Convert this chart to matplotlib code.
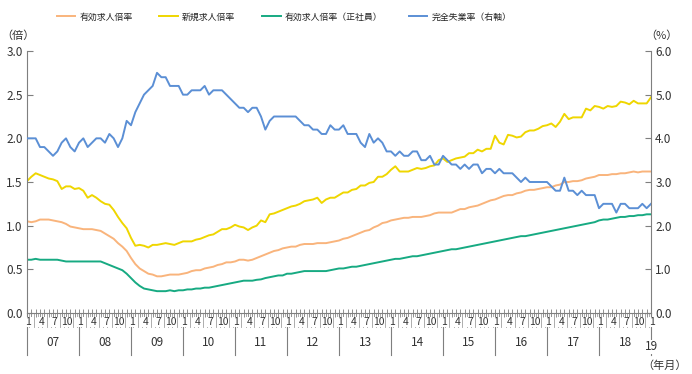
import matplotlib
matplotlib.use("Agg")
import matplotlib.pyplot as plt
import matplotlib.transforms as mtransforms
import numpy as np

plt.rcParams['font.family'] = ['Liberation Sans Narrow', 'Noto Sans CJK JP', 'DejaVu Sans']

# monthly data, 2007-01 .. 2019-01
years = ['07', '08', '09', '10', '11', '12', '13', '14', '15', '16', '17', '18', '19']
month_labels = ['1', '4', '7', '10']

# 有効求人倍率
jobs_ratio = [
    1.05, 1.04, 1.05, 1.07, 1.07, 1.07, 1.06, 1.05, 1.04, 1.02, 0.99, 0.98,
    0.97, 0.96, 0.96, 0.96, 0.95, 0.94, 0.91, 0.88, 0.85, 0.80, 0.76, 0.71,
    0.63, 0.56, 0.51, 0.48, 0.45, 0.44, 0.42, 0.42, 0.43, 0.44, 0.44, 0.44,
    0.45, 0.46, 0.48, 0.49, 0.49, 0.51, 0.52, 0.53, 0.55, 0.56, 0.58, 0.58,
    0.59, 0.61, 0.61, 0.60, 0.61, 0.63, 0.65, 0.67, 0.69, 0.71, 0.72, 0.74,
    0.75, 0.76, 0.76, 0.78, 0.79, 0.79, 0.79, 0.80, 0.80, 0.80, 0.81, 0.82,
    0.83, 0.85, 0.86, 0.88, 0.90, 0.92, 0.94, 0.95, 0.98, 1.00, 1.03, 1.04,
    1.06, 1.07, 1.08, 1.09, 1.09, 1.10, 1.10, 1.10, 1.11, 1.12, 1.14, 1.15,
    1.15, 1.15, 1.15, 1.17, 1.19, 1.19, 1.21, 1.22, 1.23, 1.25, 1.27, 1.29,
    1.30, 1.32, 1.34, 1.35, 1.35, 1.37, 1.38, 1.40, 1.41, 1.41, 1.42, 1.43,
    1.44, 1.44, 1.46, 1.47, 1.50, 1.50, 1.51, 1.51, 1.52, 1.54, 1.55, 1.56,
    1.58, 1.58, 1.58, 1.59, 1.59, 1.60, 1.60, 1.61, 1.62, 1.61, 1.62, 1.62,
    1.62,
]

# 新規求人倍率
new_jobs_ratio = [
    1.51, 1.56, 1.60, 1.58, 1.56, 1.54, 1.53, 1.51, 1.42, 1.45, 1.45, 1.42,
    1.43, 1.40, 1.32, 1.35, 1.32, 1.28, 1.25, 1.24, 1.18, 1.10, 1.03, 0.97,
    0.86, 0.77, 0.78, 0.77, 0.75, 0.78, 0.78, 0.79, 0.80, 0.79, 0.78, 0.80,
    0.82, 0.82, 0.82, 0.84, 0.85, 0.87, 0.89, 0.90, 0.93, 0.96, 0.96, 0.98,
    1.01, 0.99, 0.98, 0.95, 0.98, 1.00, 1.06, 1.04, 1.13, 1.14, 1.16, 1.18,
    1.20, 1.22, 1.23, 1.25, 1.28, 1.29, 1.30, 1.32, 1.26, 1.30, 1.32, 1.32,
    1.35, 1.38, 1.38, 1.41, 1.42, 1.46, 1.46, 1.49, 1.50, 1.56, 1.56, 1.59,
    1.64, 1.68, 1.62, 1.62, 1.62, 1.64, 1.66, 1.65, 1.66, 1.68, 1.69, 1.75,
    1.77, 1.73, 1.75, 1.77, 1.78, 1.79, 1.83, 1.83, 1.87, 1.85, 1.88, 1.88,
    2.03, 1.95, 1.93, 2.04, 2.03, 2.01, 2.02, 2.07, 2.09, 2.09, 2.11, 2.14,
    2.15, 2.17, 2.13, 2.19, 2.28, 2.22, 2.24, 2.24, 2.24, 2.34, 2.32, 2.37,
    2.36, 2.34, 2.37, 2.36, 2.37, 2.42, 2.41, 2.39, 2.43, 2.40, 2.40, 2.40,
    2.47,
]

# 有効求人倍率（正社員）
regular_ratio = [
    0.61, 0.61, 0.62, 0.61, 0.61, 0.61, 0.61, 0.61, 0.60, 0.59, 0.59, 0.59,
    0.59, 0.59, 0.59, 0.59, 0.59, 0.59, 0.57, 0.55, 0.53, 0.51, 0.49, 0.45,
    0.40, 0.35, 0.31, 0.28, 0.27, 0.26, 0.25, 0.25, 0.25, 0.26, 0.25, 0.26,
    0.26, 0.27, 0.27, 0.28, 0.28, 0.29, 0.29, 0.30, 0.31, 0.32, 0.33, 0.34,
    0.35, 0.36, 0.37, 0.37, 0.37, 0.38, 0.385, 0.40, 0.41, 0.42, 0.43, 0.43,
    0.45, 0.45, 0.46, 0.47, 0.48, 0.48, 0.48, 0.48, 0.48, 0.48, 0.49, 0.50,
    0.51, 0.51, 0.52, 0.53, 0.53, 0.54, 0.55, 0.56, 0.57, 0.58, 0.59, 0.60,
    0.61, 0.62, 0.62, 0.63, 0.64, 0.65, 0.65, 0.66, 0.67, 0.68, 0.69, 0.70,
    0.71, 0.72, 0.73, 0.73, 0.74, 0.75, 0.76, 0.77, 0.78, 0.79, 0.80, 0.81,
    0.82, 0.83, 0.84, 0.85, 0.86, 0.87, 0.88, 0.88, 0.89, 0.90, 0.91, 0.92,
    0.93, 0.94, 0.95, 0.96, 0.97, 0.98, 0.99, 1.00, 1.01, 1.02, 1.03, 1.04,
    1.06, 1.07, 1.07, 1.08, 1.09, 1.10, 1.10, 1.11, 1.11, 1.12, 1.12, 1.13,
    1.13,
]

# 完全失業率（右軸, %）
unemployment = [
    4.0, 4.0, 4.0, 3.8, 3.8, 3.7, 3.6, 3.7, 3.9, 4.0, 3.8, 3.7,
    3.9, 4.0, 3.8, 3.9, 4.0, 4.0, 3.9, 4.1, 4.0, 3.8, 4.0, 4.4,
    4.3, 4.6, 4.8, 5.0, 5.1, 5.2, 5.5, 5.4, 5.4, 5.2, 5.2, 5.2,
    5.0, 5.0, 5.1, 5.1, 5.1, 5.2, 5.0, 5.1, 5.1, 5.1, 5.0, 4.9,
    4.8, 4.7, 4.7, 4.6, 4.7, 4.7, 4.5, 4.2, 4.4, 4.5, 4.5, 4.5,
    4.5, 4.5, 4.5, 4.4, 4.3, 4.3, 4.2, 4.2, 4.1, 4.1, 4.3, 4.2,
    4.2, 4.3, 4.1, 4.1, 4.1, 3.9, 3.8, 4.1, 3.9, 4.0, 3.9, 3.7,
    3.7, 3.6, 3.7, 3.6, 3.6, 3.7, 3.7, 3.5, 3.5, 3.6, 3.4, 3.4,
    3.6, 3.5, 3.4, 3.4, 3.3, 3.4, 3.3, 3.4, 3.4, 3.2, 3.3, 3.3,
    3.2, 3.3, 3.2, 3.2, 3.2, 3.1, 3.0, 3.1, 3.0, 3.0, 3.0, 3.0,
    3.0, 2.9, 2.8, 2.8, 3.1, 2.8, 2.8, 2.7, 2.8, 2.7, 2.7, 2.7,
    2.4, 2.5, 2.5, 2.5, 2.3, 2.5, 2.5, 2.4, 2.4, 2.4, 2.5, 2.4,
    2.5,
]

c_orange = '#F9B47C'
c_yellow = '#EFD600'
c_green = '#17AA82'
c_blue = '#5B8FD5'
c_axis = '#7F7F7F'

x = np.arange(len(jobs_ratio))

fig = plt.figure(figsize=(6.92, 3.74), dpi=100)
ax = fig.add_axes([27 / 692, 1 - 313 / 374, 624 / 692, 262 / 374])
ax2 = ax.twinx()

l1, = ax.plot(x, jobs_ratio, color=c_orange, lw=1.4, label='有効求人倍率')
l2, = ax.plot(x, new_jobs_ratio, color=c_yellow, lw=1.4, label='新規求人倍率')
l3, = ax.plot(x, regular_ratio, color=c_green, lw=1.4, label='有効求人倍率（正社員）')
l4, = ax2.plot(x, unemployment, color=c_blue, lw=1.4, label='完全失業率（右軸）')

ax.set_xlim(0, len(x) - 1)
ax.set_ylim(0, 3.0)
ax2.set_ylim(0, 6.0)
ax.set_yticks(np.arange(0, 3.01, 0.5))
ax.set_yticklabels([f'{v:.1f}' for v in np.arange(0, 3.01, 0.5)])
ax2.set_yticks(np.arange(0, 6.01, 1.0))
ax2.set_yticklabels([f'{v:.1f}' for v in np.arange(0, 6.01, 1.0)])

for a in (ax, ax2):
    a.spines['top'].set_visible(False)
    for s in ('left', 'right', 'bottom'):
        a.spines[s].set_color(c_axis)
        a.spines[s].set_linewidth(0.8)
    a.tick_params(axis='y', direction='in', length=4, width=0.8, color=c_axis,
                  labelsize=8.5, labelcolor='#333333', pad=3)
ax2.spines['bottom'].set_visible(False)
ax2.spines['left'].set_visible(False)
ax.spines['right'].set_visible(False)

# month ticks on the axis line
ax.set_xticks(x)
ax.set_xticklabels([])
ax.tick_params(axis='x', direction='inout', length=6, width=0.6, color=c_axis)

# month separators, month labels and year labels below the axis
trans = mtransforms.blended_transform_factory(ax.transData, ax.transAxes)
h = ax.get_position().height * 374  # axes height in px
px = 1.0 / h
for i in x[:-1]:
    ax.plot([i + 0.5, i + 0.5], [0, -14 * px], color='#A0A0A0', lw=0.6,
            transform=trans, clip_on=False)
for yi in range(len(years)):
    start = yi * 12
    ax.plot([start, start], [0, -42 * px], color=c_axis, lw=0.8,
            transform=trans, clip_on=False)
    if yi < len(years) - 1:
        for k, lab in enumerate(month_labels):
            ax.text(start + 3 * k + 0.3, -9 * px, lab, transform=trans, ha='center',
                    va='center', fontsize=7.5, color='#333333',
                    bbox=dict(facecolor='white', edgecolor='none', pad=0.3))
        ax.text(start + 6, -29 * px, years[yi], transform=trans, ha='center',
                va='center', fontsize=8.5, color='#333333')
    else:
        ax.text(start + 0.3, -9 * px, '1', transform=trans, ha='center',
                va='center', fontsize=7.5, color='#333333',
                bbox=dict(facecolor='white', edgecolor='none', pad=0.3))
        ax.text(start, -34 * px, years[yi], transform=trans, ha='center',
                va='center', fontsize=8.5, color='#333333',
                bbox=dict(facecolor='white', edgecolor='none', pad=0.5))

fig.text(665 / 692, 1 - 366 / 374, '（年月）', ha='center', va='center',
         fontsize=8, color='#333333')
fig.text(18 / 692, 1 - 36 / 374, '（倍）', ha='center', va='center',
         fontsize=8, color='#333333')
fig.text(661 / 692, 1 - 36 / 374, '（%）', ha='center', va='center',
         fontsize=8, color='#333333')

fig.legend(handles=[l1, l2, l3, l4], loc='center', bbox_to_anchor=(284 / 692, 1 - 17 / 374),
           ncol=4, frameon=False, fontsize=6.4, handlelength=2.1, columnspacing=3.0,
           handletextpad=0.45, labelcolor='#222222')

fig.savefig('out.png', dpi=100)
